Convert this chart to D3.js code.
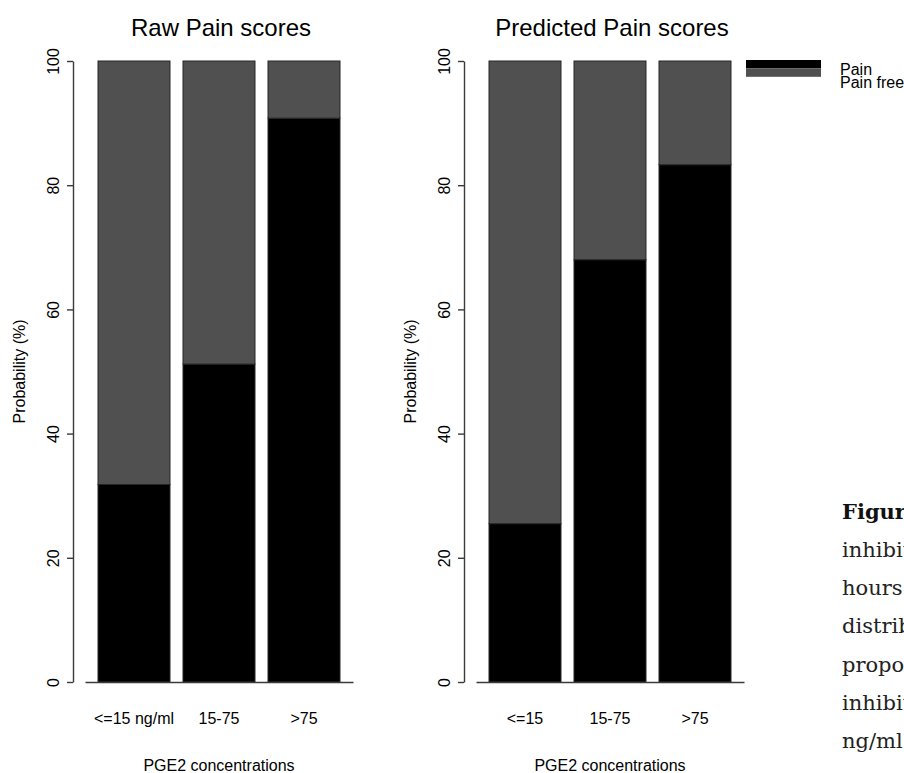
<!DOCTYPE html>
<html>
<head>
<meta charset="utf-8">
<script src="https://cdn.jsdelivr.net/npm/d3@7/dist/d3.min.js"></script>
<style>
  html, body { margin: 0; padding: 0; background: #fff; }
  svg { display: block; }
</style>
</head>
<body>
<svg id="chart" width="904" height="773"></svg>
<script>
// PGE2 concentration groups
const rawCategories = ["<=15 ng/ml", "15-75", ">75"];
const predCategories = ["<=15", "15-75", ">75"];

// Percentages per group (Pain at the bottom, Pain free stacked above)
const rawPain = [31.8, 51.2, 90.8];
const rawPainFree = [68.2, 48.8, 9.2];
const predPain = [25.5, 68.0, 83.3];
const predPainFree = [74.5, 32.0, 16.7];

const seriesNames = ["Pain", "Pain free"];
const seriesColors = ["#000000", "#505050"];
const yTicks = [0, 20, 40, 60, 80, 100];

const panelTitles = ["Raw Pain scores", "Predicted Pain scores"];
const xTitle = "PGE2 concentrations";
const yTitle = "Probability (%)";

const captionLines = ["inhibition", "hours", "distribution", "proportion", "inhibition", "ng/ml"];

const SANS = "Liberation Sans, Arial, sans-serif";
const SERIF = "DejaVu Serif, serif";

const svg = d3.select("#chart").style("font-family", SANS);

const y = d3.scaleLinear().domain([0, 100]).range([682, 61]);

const panels = [
  { title: panelTitles[0], cats: rawCategories, pain: rawPain, free: rawPainFree, axisX: 73, range: [85, 353] },
  { title: panelTitles[1], cats: predCategories, pain: predPain, free: predPainFree, axisX: 464, range: [476, 744] }
];

panels.forEach(p => {
  const g = svg.append("g");
  const x = d3.scaleBand().domain(p.cats).range(p.range)
    .paddingInner(0.153).paddingOuter(0.153);

  const rows = p.cats.map((c, i) => ({ cat: c, "Pain": p.pain[i], "Pain free": p.free[i] }));
  const stacked = d3.stack().keys(seriesNames)(rows);

  // stacked bars
  g.selectAll("g.layer").data(stacked).join("g")
    .attr("class", "layer")
    .attr("fill", (d, i) => seriesColors[i])
    .selectAll("rect").data(d => d).join("rect")
    .attr("x", d => x(d.data.cat))
    .attr("width", x.bandwidth())
    .attr("y", d => y(d[1]))
    .attr("height", d => y(d[0]) - y(d[1]))
    .attr("stroke", "#262626")
    .attr("stroke-width", 1);

  // y axis with rotated tick labels
  const ya = g.append("g")
    .attr("transform", `translate(${p.axisX},0)`)
    .call(d3.axisLeft(y).tickValues(yTicks).tickSize(6).tickSizeOuter(0));
  ya.select(".domain").attr("stroke", "#3a3a3a").attr("stroke-width", 1.4);
  ya.selectAll(".tick line").attr("stroke", "#3a3a3a").attr("stroke-width", 1.4);
  ya.selectAll(".tick text")
    .attr("x", null).attr("dy", null)
    .attr("transform", "translate(-14,0) rotate(-90)")
    .attr("text-anchor", "middle")
    .attr("font-size", 16)
    .attr("font-family", SANS)
    .attr("fill", "#000");

  // x axis: baseline plus category labels
  const xa = g.append("g")
    .attr("transform", `translate(0,${y(0)})`)
    .call(d3.axisBottom(x).tickSize(0).tickSizeOuter(0).tickPadding(31));
  xa.select(".domain").attr("stroke", "#3a3a3a").attr("stroke-width", 1.4);
  xa.selectAll(".tick text")
    .attr("font-size", 16)
    .attr("font-family", SANS)
    .attr("fill", "#000");

  const cx = (p.range[0] + p.range[1]) / 2;

  g.append("text")
    .attr("x", cx + 2).attr("y", 36)
    .attr("text-anchor", "middle")
    .attr("font-size", 24)
    .text(p.title);

  g.append("text")
    .attr("x", cx).attr("y", 771)
    .attr("text-anchor", "middle")
    .attr("font-size", 16)
    .text(xTitle);

  g.append("text")
    .attr("transform", `translate(${p.axisX - 48},${(y(0) + y(100)) / 2}) rotate(-90)`)
    .attr("text-anchor", "middle")
    .attr("font-size", 16)
    .text(yTitle);
});

// legend
const legend = svg.append("g").attr("transform", "translate(746,60)");
seriesNames.forEach((name, i) => {
  legend.append("rect")
    .attr("x", 0).attr("y", i * 8.4)
    .attr("width", 75).attr("height", 8.4)
    .attr("fill", seriesColors[i]);
  legend.append("text")
    .attr("x", 94).attr("y", 15 + i * 13)
    .attr("font-size", 16)
    .text(name);
});

// caption beside the chart
const cap = svg.append("g").style("font-family", SERIF).attr("font-size", 21);
cap.append("text")
  .attr("x", 842).attr("y", 519)
  .attr("font-weight", "bold")
  .attr("fill", "#111")
  .text("Figure");
captionLines.forEach((t, i) => {
  cap.append("text")
    .attr("x", 842).attr("y", 557 + i * 38.2)
    .attr("fill", "#222")
    .text(t);
});
</script>
</body>
</html>
